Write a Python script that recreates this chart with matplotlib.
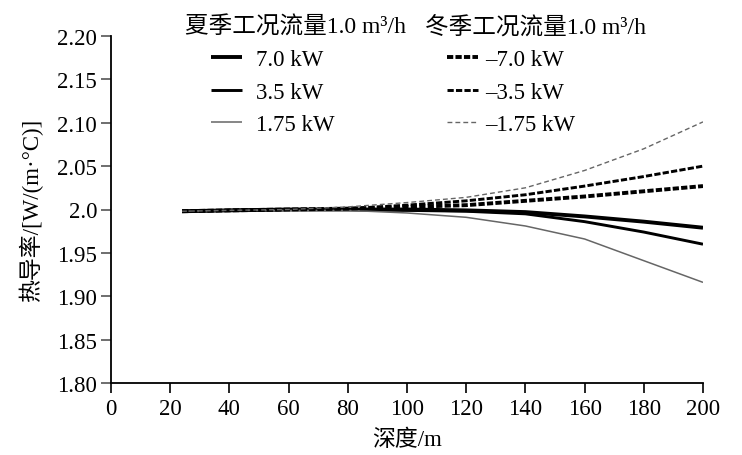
import matplotlib
matplotlib.use("Agg")
import matplotlib.pyplot as plt

plt.rcParams['font.family'] = ['Liberation Serif', 'Noto Sans CJK SC', 'DejaVu Sans']
plt.rcParams['lines.scale_dashes'] = False

depth = [24, 40, 60, 80, 100, 120, 140, 160, 180, 200]
summer_7_0 = [1.998, 1.999, 2.000, 2.000, 2.000, 1.999, 1.997, 1.992, 1.986, 1.979]
summer_3_5 = [1.998, 1.999, 2.000, 2.000, 1.999, 1.998, 1.995, 1.986, 1.974, 1.960]
summer_1_75 = [1.998, 1.999, 1.999, 1.999, 1.996, 1.991, 1.981, 1.966, 1.941, 1.916]
winter_7_0 = [1.998, 1.999, 2.000, 2.001, 2.003, 2.005, 2.010, 2.015, 2.021, 2.027]
winter_3_5 = [1.998, 1.999, 2.000, 2.001, 2.005, 2.010, 2.017, 2.027, 2.038, 2.050]
winter_1_75 = [1.998, 1.999, 2.000, 2.003, 2.008, 2.014, 2.025, 2.045, 2.070, 2.101]

summer_labels = ['7.0 kW', '3.5 kW', '1.75 kW']
winter_labels = ['\u20137.0 kW', '\u20133.5 kW', '\u20131.75 kW']
summer_title = '夏季工况流量1.0 m³/h'
winter_title = '冬季工况流量1.0 m³/h'
yticks = [1.80, 1.85, 1.90, 1.95, 2.00, 2.05, 2.10, 2.15, 2.20]
ytick_labels = ['1.80', '1.85', '1.90', '1.95', '2.0', '2.05', '2.10', '2.15', '2.20']
xticks = [0, 20, 40, 60, 80, 100, 120, 140, 160, 180, 200]

FS = 16.5

fig = plt.figure(figsize=(7.42, 4.56), dpi=100)
ax = fig.add_axes([111/742, 1-384/456, (703-111)/742, (384-37)/456])

styles_s = [dict(color='black', lw=2.8), dict(color='black', lw=2.1), dict(color='#666666', lw=1.1)]
styles_w = [dict(color='black', lw=2.8, ls=(0, (4.5, 1.6))),
            dict(color='black', lw=2.1, ls=(0, (4.5, 1.6))),
            dict(color='#666666', lw=1.0, ls=(0, (3.5, 2.2)))]

hs, hw = [], []
for ys, st in zip([summer_7_0, summer_3_5, summer_1_75], styles_s):
    hs.append(ax.plot(depth, ys, solid_capstyle='butt', **st)[0])
for ys, st in zip([winter_7_0, winter_3_5, winter_1_75], styles_w):
    hw.append(ax.plot(depth, ys, dash_capstyle='butt', **st)[0])

ax.set_xlim(0, 200)
ax.set_ylim(1.80, 2.20)
ax.set_xticks(xticks)
ax.set_xticklabels([str(x) for x in xticks])
ax.set_yticks(yticks)
ax.set_yticklabels(ytick_labels)
for s in ['top', 'right']:
    ax.spines[s].set_visible(False)
for s in ['left', 'bottom']:
    ax.spines[s].set_linewidth(1.3)
ax.tick_params(axis='y', direction='out', length=7, width=1.2, color='#555555', labelsize=FS, pad=3)
ax.tick_params(axis='x', direction='out', length=7, width=1.2, color='black', labelsize=FS, pad=4)

ax.set_xlabel('深度/m', fontsize=FS, labelpad=7)
ax.set_ylabel('热导率/[W/(m·°C)]', fontsize=FS, labelpad=10)

fp = dict(size=FS)
leg1 = fig.legend(hs, summer_labels, loc='upper left', bbox_to_anchor=(211/742, 1-50/456),
                  frameon=False, handlelength=1.35, handletextpad=0.6, labelspacing=0.5,
                  borderpad=0, borderaxespad=0, prop=fp)
leg2 = fig.legend(hw, winter_labels, loc='upper left', bbox_to_anchor=(447/742, 1-50/456),
                  frameon=False, handlelength=1.35, handletextpad=0.3, labelspacing=0.5,
                  borderpad=0, borderaxespad=0, prop=fp)
fig.text(185/742, 1-28/456, summer_title, fontsize=17, va='center', ha='left')
fig.text(425/742, 1-28/456, winter_title, fontsize=17, va='center', ha='left')

fig.savefig('out.png', dpi=100)
